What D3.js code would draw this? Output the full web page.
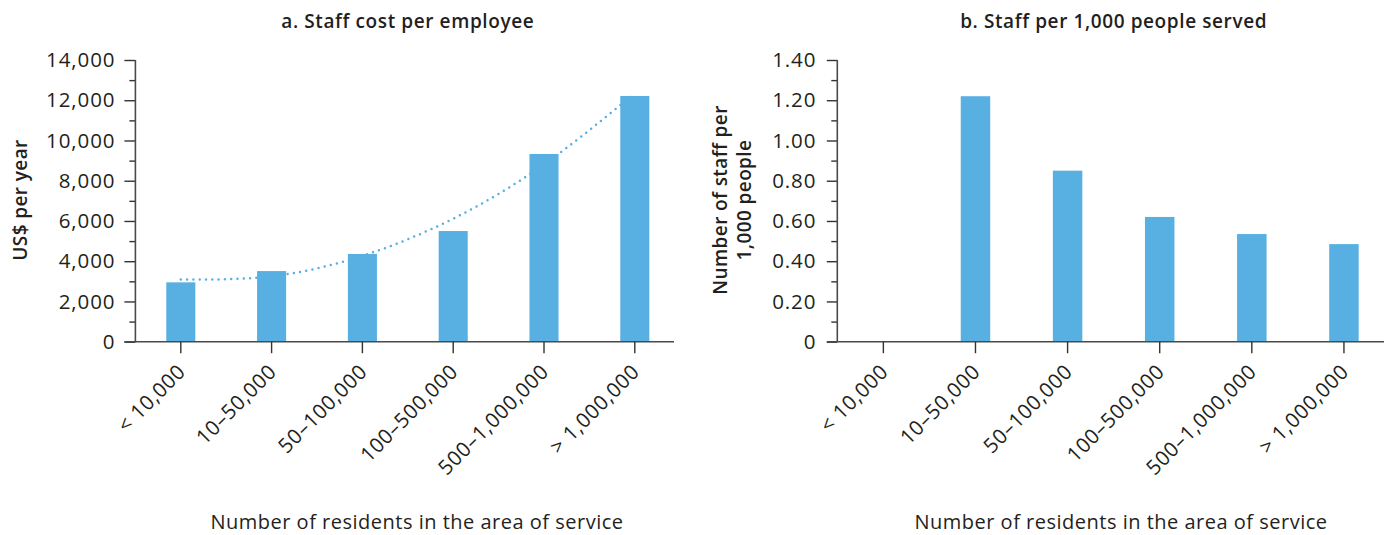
<!DOCTYPE html>
<html>
<head>
<meta charset="utf-8">
<script src="https://cdn.jsdelivr.net/npm/d3@7"></script>
<style>
  body { margin: 0; background: #fff; }
  svg { display: block; font-family: "Open Sans", "Noto Sans", sans-serif; }
</style>
</head>
<body>
<svg id="chart" width="1393" height="535"></svg>
<script>
// Population bands of the service area
const categories = ["< 10,000", "10–50,000", "50–100,000", "100–500,000", "500–1,000,000", "> 1,000,000"];

// a. Staff cost per employee (US$ per year)
const costPerEmployee = [2950, 3510, 4360, 5500, 9330, 12210];
// Polynomial trend line evaluated at each band
const costTrend = [3090, 3255, 4265, 6115, 8810, 12350];
const costTicks = [0, 2000, 4000, 6000, 8000, 10000, 12000, 14000];
const costTickLabels = ["0", "2,000", "4,000", "6,000", "8,000", "10,000", "12,000", "14,000"];
const costMinorTicks = [1000, 3000, 5000, 7000, 9000, 11000, 13000];

// b. Staff per 1,000 people served (no value for the smallest band)
const staffPer1000 = [null, 1.22, 0.85, 0.62, 0.535, 0.485];
const staffTicks = [0, 0.2, 0.4, 0.6, 0.8, 1.0, 1.2, 1.4];
const staffTickLabels = ["0", "0.20", "0.40", "0.60", "0.80", "1.00", "1.20", "1.40"];
const staffMinorTicks = [0.1, 0.3, 0.5, 0.7, 0.9, 1.1, 1.3];

const BAR = "#58afe1";
const AXIS = "#4a4a4a";
const TICK = "#333";
const TEXT = "#231f20";

const svg = d3.select("#chart");

function panel(opt) {
  const g = svg.append("g");
  const x = d3.scaleBand()
    .domain(categories)
    .range(opt.xRange)
    .paddingInner(0.68)
    .paddingOuter(0.34);
  const y = d3.scaleLinear().domain(opt.yDomain).range([341.7, 60]);
  const x0 = opt.xRange[0];

  // title
  g.append("text")
    .attr("x", (opt.xRange[0] + opt.xRange[1]) / 2)
    .attr("y", 28)
    .attr("text-anchor", "middle")
    .style("font-size", "19px")
    .style("font-weight", 600)
    .style("letter-spacing", "0.6px")
    .attr("fill", TEXT)
    .text(opt.title);

  // trend line (drawn under the bars)
  if (opt.trend) {
    const line = d3.line()
      .x((d, i) => x(categories[i]) + x.bandwidth() / 2)
      .y(d => y(d))
      .curve(d3.curveNatural);
    g.append("path")
      .datum(opt.trend)
      .attr("d", line)
      .attr("fill", "none")
      .attr("stroke", BAR)
      .attr("stroke-width", 2.5)
      .attr("stroke-linecap", "round")
      .attr("stroke-dasharray", "0 6.3");
  }

  // bars
  g.selectAll("rect.bar")
    .data(opt.values.map((v, i) => ({ c: categories[i], v })).filter(d => d.v != null))
    .join("rect")
    .attr("class", "bar")
    .attr("x", d => x(d.c))
    .attr("width", x.bandwidth())
    .attr("y", d => y(d.v))
    .attr("height", d => y(0) - y(d.v))
    .attr("fill", BAR);

  // y axis: major ticks with labels, minor ticks without
  const yAxis = d3.axisLeft(y)
    .tickValues(opt.yTicks)
    .tickFormat((d, i) => opt.yTickLabels[i])
    .tickSize(opt.majorLen)
    .tickPadding(opt.labelGap);
  const ya = g.append("g").attr("transform", `translate(${x0},0)`).call(yAxis);
  ya.select(".domain").remove();
  ya.selectAll(".tick line").attr("stroke", TICK).attr("stroke-width", 1.4);
  ya.selectAll(".tick text")
    .attr("fill", TEXT)
    .style("font-size", "20.5px")
    .style("letter-spacing", "0.9px")
    .style("font-family", "\"Open Sans\", sans-serif");

  const yMinor = d3.axisLeft(y).tickValues(opt.yMinor).tickFormat("").tickSize(6);
  const ym = g.append("g").attr("transform", `translate(${x0},0)`).call(yMinor);
  ym.select(".domain").remove();
  ym.selectAll(".tick line").attr("stroke", TICK).attr("stroke-width", 1.4);

  // axis lines
  g.append("line")
    .attr("x1", x0).attr("x2", x0)
    .attr("y1", y(opt.yDomain[1])).attr("y2", y(0))
    .attr("stroke", AXIS).attr("stroke-width", 1.6);
  g.append("line")
    .attr("x1", x0 - opt.majorLen).attr("x2", opt.xAxisEnd)
    .attr("y1", y(0)).attr("y2", y(0))
    .attr("stroke", AXIS).attr("stroke-width", 1.6);

  // x axis: ticks and rotated category labels
  const xAxis = d3.axisBottom(x).tickSize(11.5).tickFormat("");
  const xa = g.append("g").attr("transform", `translate(0,${y(0)})`).call(xAxis);
  xa.select(".domain").remove();
  xa.selectAll(".tick line").attr("stroke", TICK).attr("stroke-width", 1.4);

  g.selectAll("text.cat")
    .data(categories)
    .join("text")
    .attr("class", "cat")
    .attr("transform", d => `translate(${x(d) + x.bandwidth() / 2 + 6},373) rotate(-45)`)
    .attr("text-anchor", "end")
    .attr("fill", TEXT)
    .style("font-size", "20.5px")
    .style("letter-spacing", "0.6px")
    .text(d => d);

  // x axis title
  g.append("text")
    .attr("x", opt.xTitleX)
    .attr("y", 529)
    .attr("text-anchor", "middle")
    .attr("fill", TEXT)
    .style("font-size", "20px")
    .style("font-weight", 500)
    .style("letter-spacing", "0.5px")
    .text("Number of residents in the area of service");

  // y axis title
  const yt = g.append("text")
    .attr("transform", `translate(${opt.yTitleX},200) rotate(-90)`)
    .attr("text-anchor", "middle")
    .attr("fill", TEXT)
    .style("font-size", "19px")
    .style("font-weight", 600)
    .style("letter-spacing", "0.4px");
  opt.yTitle.forEach((t, i) => {
    yt.append("tspan").attr("x", 0).attr("y", i * 23.5).text(t);
  });
}

panel({
  title: "a. Staff cost per employee",
  xRange: [135.4, 680.2],
  xAxisEnd: 674,
  yDomain: [0, 14000],
  yTicks: costTicks,
  yTickLabels: costTickLabels,
  yMinor: costMinorTicks,
  majorLen: 11,
  labelGap: 9,
  values: costPerEmployee,
  trend: costTrend,
  xTitleX: 417,
  yTitle: ["US$ per year"],
  yTitleX: 27
});

panel({
  title: "b. Staff per 1,000 people served",
  xRange: [837.3, 1390],
  xAxisEnd: 1384,
  yDomain: [0, 1.4],
  yTicks: staffTicks,
  yTickLabels: staffTickLabels,
  yMinor: staffMinorTicks,
  majorLen: 10.5,
  labelGap: 10.5,
  values: staffPer1000,
  trend: null,
  xTitleX: 1121,
  yTitle: ["Number of staff per", "1,000 people"],
  yTitleX: 727
});
</script>
</body>
</html>
